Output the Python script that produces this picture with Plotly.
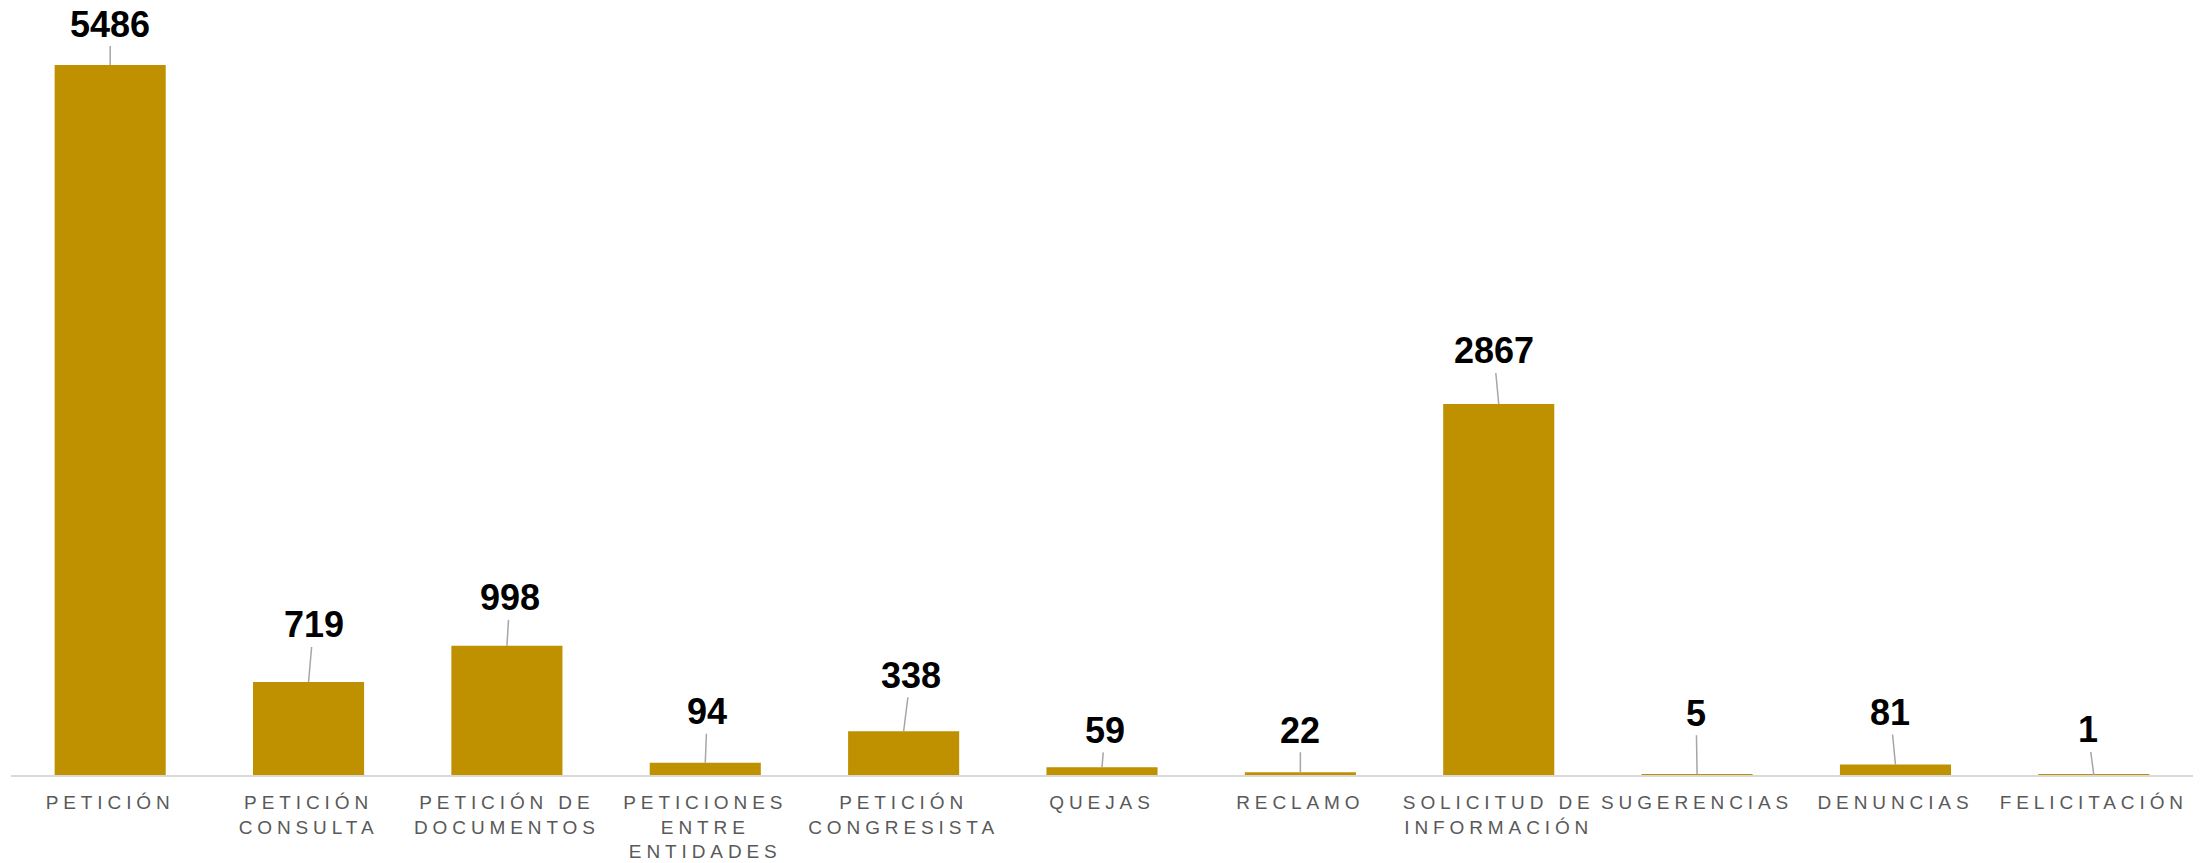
import plotly.graph_objects as go

# PQRSD requests received, by type
categories = [
    "PETICIÓN",
    "PETICIÓN<br>CONSULTA",
    "PETICIÓN DE<br>DOCUMENTOS",
    "PETICIONES<br>ENTRE<br>ENTIDADES",
    "PETICIÓN<br>CONGRESISTA",
    "QUEJAS",
    "RECLAMO",
    "SOLICITUD DE<br>INFORMACIÓN",
    "SUGERENCIAS",
    "DENUNCIAS",
    "FELICITACIÓN",
]
values = [5486, 719, 998, 94, 338, 59, 22, 2867, 5, 81, 1]

# pixel offsets of each value label from the top of its bar (dx, dy)
label_offsets = [
    (0, -41), (5, -57), (3, -48), (2, -51), (7, -56), (3, -37),
    (0, -42), (-5, -53), (-1, -61), (-5, -52), (-6, -45),
]

BAR_COLOR = "#BF9000"
FONT = "Liberation Sans, Arial, sans-serif"

ids = list(range(len(categories)))

fig = go.Figure(
    go.Bar(
        x=ids,
        y=values,
        marker=dict(color=BAR_COLOR, line=dict(width=0)),
        width=0.56,
        hoverinfo="skip",
    )
)

for i, (v, (dx, dy)) in enumerate(zip(values, label_offsets)):
    fig.add_annotation(
        x=i,
        y=v,
        text=f"<b>{v}</b>",
        showarrow=True,
        arrowhead=0,
        arrowwidth=1.5,
        arrowcolor="#a6a6a6",
        standoff=0,
        ax=dx,
        ay=dy,
        font=dict(family=FONT, size=36, color="#000000"),
    )

tick_text = [
    "<br>".join(
        f'<span style="letter-spacing:4.9px">{line}</span>' for line in c.split("<br>")
    )
    for c in categories
]

fig.update_layout(
    width=2211,
    height=863,
    margin=dict(l=11, r=18, t=65, b=88, pad=0),
    paper_bgcolor="white",
    plot_bgcolor="white",
    showlegend=False,
    bargap=0.44,
    xaxis=dict(
        tickmode="array",
        tickvals=ids,
        ticktext=tick_text,
        range=[-0.5, len(categories) - 0.5],
        showline=True,
        linecolor="#d9d9d9",
        linewidth=2,
        ticks="",
        ticklabelstandoff=9,
        showgrid=False,
        zeroline=False,
        automargin=False,
        tickfont=dict(family=FONT, size=19, color="#595959"),
    ),
    yaxis=dict(
        range=[0, 5486],
        visible=False,
        showgrid=False,
        zeroline=False,
        fixedrange=True,
    ),
)

fig.write_html("out.html")
